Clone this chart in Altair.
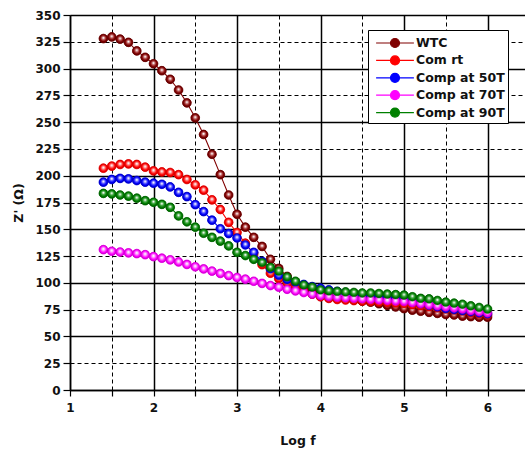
import altair as alt
import pandas as pd

# ---- data ----
log_f = [1.4, 1.5, 1.6, 1.7, 1.8, 1.9,
         2.0, 2.1, 2.2, 2.3, 2.4, 2.5, 2.6, 2.7, 2.8, 2.9,
         3.0, 3.1, 3.2, 3.3, 3.4, 3.5, 3.6, 3.7, 3.8, 3.9,
         4.0, 4.1, 4.2, 4.3, 4.4, 4.5, 4.6, 4.7, 4.8, 4.9,
         5.0, 5.1, 5.2, 5.3, 5.4, 5.5, 5.6, 5.7, 5.8, 5.9,
         6.0]

wtc = [328, 329.5, 327.5, 324.5, 316.5, 310.5,
       304.5, 298, 290, 280, 268, 254, 238.5, 220, 201, 182,
       164, 152, 142.5, 134, 122, 113.5, 106, 100, 95.5, 92,
       89.5, 87.5, 86, 85, 84, 83, 82, 80.5, 79, 77.5,
       76, 74.5, 73.5, 72.5, 71.5, 70.5, 70, 69, 68.5, 68,
       68]

com_rt = [207, 209, 210.5, 211, 210.5, 208,
          204.5, 203.5, 203, 201, 196.5, 191.5, 186.5, 177.5, 168.5, 156.5,
          147, 137, 127, 117, 109, 104, 100, 96, 92.5, 89.5,
          87, 85.5, 84.5, 84, 83.5, 83, 82.5, 82, 81.5, 81,
          80.5, 79.5, 78.5, 77.5, 76.5, 75.5, 74.5, 73.5, 72, 71,
          70]

comp_50 = [194, 196.5, 197.5, 197, 195.5, 194,
           193, 192, 189.5, 184.5, 180.5, 173, 166.5, 158.5, 150.5, 146,
           142, 135.5, 128.5, 120, 113, 107, 103, 100.5, 98.5, 96.5,
           95, 93.5, 92, 91, 90, 89, 88, 87, 86, 85,
           83.5, 82, 80.5, 79, 77.5, 76, 75, 74, 73, 72,
           71]

comp_70 = [131, 129.5, 128.8, 128, 127.3, 126.3,
           124.5, 123, 121.5, 119.5, 117.2, 115, 113, 111, 108.8, 106.8,
           105, 103.5, 101.5, 99.5, 97.5, 96, 94, 92.5, 91, 89.5,
           88, 87, 86.5, 86, 85.5, 85, 84.5, 84, 83.5, 83,
           82.5, 81.5, 80.5, 79.5, 78.5, 77.5, 76.5, 75.5, 74, 73,
           72]

comp_90 = [183.5, 183, 182, 181, 179, 176.7,
           175.2, 173.3, 170.5, 162.5, 157, 152, 146.3, 142.5, 139, 134.5,
           128.5, 125.5, 122, 119, 114.5, 111, 105.5, 101.5, 98, 96,
           93.5, 92.5, 92, 91.5, 91, 90.5, 90.5, 90, 89.5, 89,
           88.5, 87, 85.5, 85, 83.5, 82, 81, 80, 78.5, 77,
           75.5]

series_names = ["WTC", "Com rt", "Comp at 50T", "Comp at 70T", "Comp at 90T"]
series_values = [wtc, com_rt, comp_50, comp_70, comp_90]
series_colors = ["#800000", "#ff0000", "#0000ff", "#ff00ff", "#008000"]
series_light = ["#c87070", "#ff9090", "#8080ff", "#ffa0ff", "#60b860"]
series_dark = ["#5a0000", "#c80000", "#0000b0", "#c000c0", "#005500"]

x_ticks = [1, 1.5, 2, 2.5, 3, 3.5, 4, 4.5, 5, 5.5, 6]
y_ticks = [0, 25, 50, 75, 100, 125, 150, 175, 200, 225, 250, 275, 300, 325, 350]

rows = []
for name, vals in zip(series_names, series_values):
    for xv, yv in zip(log_f, vals):
        rows.append({"logf": xv, "z": yv, "series": name})
df = pd.DataFrame(rows)

FONT = "DejaVu Sans"
PT_SIZE = 76

x_axis = alt.Axis(
    values=x_ticks,
    labelExpr="datum.value % 1 === 0 ? format(datum.value, 'd') : ''",
    title="Log f",
    labelFont=FONT, labelFontWeight="bold", labelFontSize=12, labelColor="#111",
    titleFont=FONT, titleFontWeight="bold", titleFontSize=12.5, titleColor="#111",
    tickSize=6, tickColor="black", tickWidth=1.2,
    domainColor="black", domainWidth=1.5,
    labelPadding=6, titlePadding=21,
    grid=True, gridColor="black",
    gridDash={"condition": {"test": "datum.value % 1 !== 0", "value": [4, 3]}, "value": []},
    gridWidth={"condition": {"test": "datum.value % 1 !== 0", "value": 1}, "value": 1.5},
    labelFlush=False,
)

y_axis = alt.Axis(
    values=y_ticks,
    title="Z' (Ω)",
    labelFont=FONT, labelFontWeight="bold", labelFontSize=12, labelColor="#111",
    titleFont=FONT, titleFontWeight="bold", titleFontSize=12.5, titleColor="#111",
    tickSize=7, tickColor="black", tickWidth=1.2,
    domainColor="black", domainWidth=1.5,
    labelPadding=3, titlePadding=9,
    grid=True, gridColor="black",
    gridDash={"condition": {"test": "datum.value % 50 !== 0", "value": [4, 3]}, "value": []},
    gridWidth={"condition": {"test": "datum.value % 50 !== 0", "value": 1}, "value": 1.5},
    labelFlush=False,
)

X = alt.X("logf:Q", scale=alt.Scale(domain=[1, 6.449], nice=False, zero=False), axis=x_axis)
Y = alt.Y("z:Q", scale=alt.Scale(domain=[0, 350], nice=False), axis=y_axis)

color_scale = alt.Scale(domain=series_names, range=series_colors)
legend_path = "M-2.1,0L-0.5,0M0.5,0L2.1,0M-0.5,0A0.5,0.5,0,1,1,0.5,0A0.5,0.5,0,1,1,-0.5,0Z"
legend = alt.Legend(
    title=None, orient="none", legendX=298, legendY=15,
    fillColor="white", strokeColor="black", padding=3,
    symbolType=legend_path, symbolSize=324, symbolStrokeWidth=1.2,
    symbolOffset=14, labelOffset=11, rowPadding=0.4,
    labelFont=FONT, labelFontWeight="bold", labelFontSize=12.5, labelColor="#111",
)

base = alt.Chart(df)

legend_layer = base.mark_point(filled=True, size=PT_SIZE, opacity=1, strokeWidth=0.5).encode(
    x=X, y=Y,
    color=alt.Color("series:N", scale=color_scale, legend=legend, sort=series_names),
    stroke=alt.Stroke("series:N", scale=color_scale, legend=legend, sort=series_names),
)

layers = [legend_layer]
for name, col, light, dark in zip(series_names, series_colors, series_light, series_dark):
    sub = base.transform_filter(alt.datum.series == name)
    line = sub.mark_line(color=col, strokeWidth=1.1).encode(x=X, y=Y)
    grad = {
        "gradient": "radial",
        "x1": 0.5, "y1": 0.4, "r1": 0,
        "x2": 0.5, "y2": 0.5, "r2": 0.55,
        "stops": [
            {"offset": 0, "color": "#ffffff"},
            {"offset": 0.12, "color": "#f4f4f4"},
            {"offset": 0.3, "color": light},
            {"offset": 0.65, "color": col},
            {"offset": 1, "color": dark},
        ],
    }
    pts = sub.mark_point(filled=True, shape="circle", size=PT_SIZE, opacity=1,
                         fill=grad, stroke=dark, strokeWidth=0.4).encode(x=X, y=Y)
    layers += [line, pts]

chart = alt.layer(*layers).properties(
    width=455, height=375,
    padding={"left": 70, "top": 15, "right": 0, "bottom": 63},
    autosize=alt.AutoSizeParams(type="none"),
    background="white",
).configure_view(stroke="transparent")

chart.save("out.html", embed_options={"renderer": "svg", "actions": False})
